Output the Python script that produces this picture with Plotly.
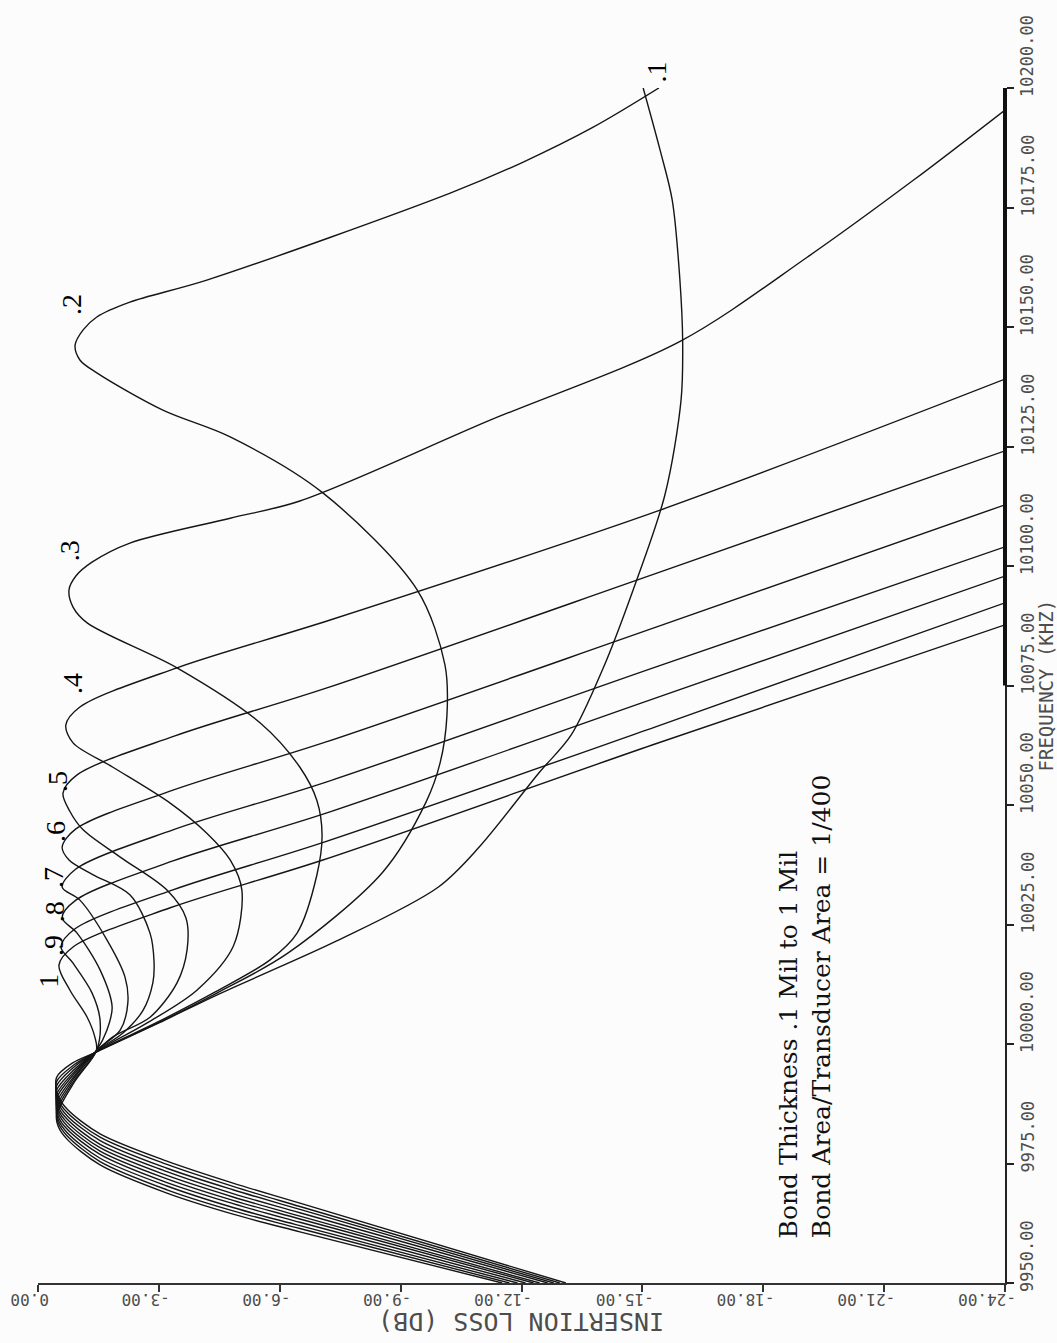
import plotly.graph_objects as go

# ---------------- axis ticks ----------------
LOSS_TICKS = [0, -3, -6, -9, -12, -15, -18, -21, -24]
LOSS_TICK_LABELS = ["0.00", "-3.00", "-6.00", "-9.00", "-12.00", "-15.00", "-18.00", "-21.00", "-24.00"]
FREQ_TICKS = [9950, 9975, 10000, 10025, 10050, 10075, 10100, 10125, 10150, 10175, 10200]
FREQ_TICK_LABELS = ["9950.00", "9975.00", "10000.00", "10025.00", "10050.00", "10075.00",
                    "10100.00", "10125.00", "10150.00", "10175.00", "10200.00"]

# ---------------- curve names (bond thickness, mil) ----------------
CURVE_NAMES = [".1", ".2", ".3", ".4", ".5", ".6", ".7", ".8", ".9", "1"]

# ---------------- series: frequency (kHz) / insertion loss (dB) ----------------
F_01 = [9950.0, 9966.7, 9970.9, 9975.5, 9981.2, 9986.4, 9989.1, 9993.0, 9996.0,
        9998.3, 10004.4, 10010.5, 10021.5, 10032.8, 10041.2, 10056.7, 10064.6, 10078.5, 10095.0,
        10114.9, 10134.7, 10147.0, 10160.0, 10176.6, 10187.0, 10200.0]
L_01 = [-13.10, -6.50, -4.84, -3.20, -1.54, -0.72, -0.50, -0.46, -0.85,
        -1.44, -3.00, -4.50, -7.40, -9.93, -10.95, -12.43, -13.23, -14.02, -14.77,
        -15.56, -15.96, -16.00, -15.93, -15.74, -15.44, -15.02]

F_02 = [9950.0, 9966.0, 9970.2, 9974.8, 9980.5, 9985.7, 9988.4, 9992.1, 9995.5,
        9998.3, 10004.4, 10010.7, 10019.0, 10036.0, 10050.6, 10058.8, 10068.8, 10079.3, 10095.0,
        10115.3, 10127.0, 10132.6, 10140.4, 10143.1, 10146.2, 10149.4, 10152.1, 10155.2, 10159.8,
        10178.0, 10184.3, 10191.8, 10200.0]
L_02 = [-12.95, -6.50, -4.84, -3.20, -1.54, -0.72, -0.50, -0.46, -0.87,
        -1.44, -2.98, -4.45, -6.20, -8.56, -9.63, -9.98, -10.15, -10.10, -9.41,
        -7.07, -4.77, -3.10, -1.46, -1.04, -0.92, -1.12, -1.46, -2.28, -4.19,
        -10.23, -11.99, -13.78, -15.41]

F_03 = [9950.0, 9965.4, 9969.5, 9974.0, 9979.8, 9985.0, 9987.7, 9991.2, 9995.1,
        9998.3, 10004.5, 10010.9, 10017.6, 10023.2, 10035.3, 10043.7, 10051.0, 10057.9, 10067.2,
        10078.7, 10088.1, 10091.4, 10095.0, 10097.9, 10100.8, 10104.8, 10110.0, 10113.6, 10130.5,
        10147.1, 10164.6, 10180.8, 10195.4]
L_03 = [-12.80, -6.50, -4.84, -3.20, -1.54, -0.72, -0.50, -0.46, -0.88,
        -1.44, -2.95, -4.40, -5.76, -6.43, -6.92, -7.05, -6.92, -6.50, -5.51,
        -3.45, -1.22, -0.87, -0.77, -0.94, -1.34, -2.28, -4.77, -6.50, -11.22,
        -15.96, -19.09, -21.74, -24.00]

F_04 = [9950.0, 9964.7, 9968.7, 9973.3, 9979.0, 9984.3, 9987.0, 9990.3, 9994.6,
        9998.4, 10004.4, 10011.3, 10020.5, 10032.2, 10038.5, 10044.1, 10050.4, 10057.9, 10063.0,
        10066.7, 10070.5, 10078.7, 10088.7, 10111.7, 10139.1]
L_04 = [-12.65, -6.50, -4.84, -3.20, -1.54, -0.72, -0.50, -0.46, -0.89,
        -1.45, -2.71, -3.95, -4.85, -5.06, -4.77, -4.19, -3.28, -1.86, -0.87,
        -0.69, -1.04, -3.45, -7.25, -15.44, -24.00]

F_05 = [9950.0, 9964.0, 9968.0, 9972.5, 9978.3, 9983.6, 9986.3, 9989.4, 9994.2,
        9998.5, 10001.5, 10005.6, 10012.8, 10019.7, 10026.4, 10032.2, 10039.1, 10044.8, 10048.7,
        10052.5, 10056.3, 10064.4, 10074.5, 10098.5, 10124.1]
L_05 = [-12.45, -6.50, -4.84, -3.20, -1.54, -0.72, -0.50, -0.46, -0.90,
        -1.45, -1.86, -2.78, -3.45, -3.70, -3.67, -3.20, -2.04, -1.12, -0.79,
        -0.62, -0.97, -3.38, -7.17, -15.36, -24.00]

F_06 = [9950.0, 9963.4, 9967.3, 9971.8, 9977.6, 9982.9, 9985.6, 9988.6, 9993.8,
        9998.5, 10002.3, 10007.1, 10012.8, 10017.2, 10023.2, 10031.2, 10035.4, 10038.5, 10041.2,
        10045.0, 10053.1, 10063.2, 10087.2, 10112.8]
L_06 = [-12.30, -6.50, -4.84, -3.20, -1.54, -0.72, -0.50, -0.46, -0.90,
        -1.45, -2.11, -2.61, -2.85, -2.88, -2.78, -2.28, -1.37, -0.77, -0.60,
        -0.94, -3.35, -7.15, -15.34, -24.00]

F_07 = [9950.0, 9962.7, 9966.6, 9971.0, 9976.9, 9982.2, 9984.9, 9987.7, 9993.3,
        9998.6, 10002.9, 10008.6, 10014.0, 10021.8, 10030.1, 10032.8, 10036.6, 10044.8, 10054.8,
        10078.9, 10104.0]
L_07 = [-12.10, -6.50, -4.84, -3.20, -1.54, -0.72, -0.50, -0.46, -0.90,
        -1.45, -2.04, -2.23, -2.16, -1.71, -1.04, -0.60, -0.94, -3.35, -7.15,
        -15.34, -24.00]

F_08 = [9950.0, 9962.0, 9965.8, 9970.3, 9976.1, 9981.5, 9984.2, 9986.8, 9992.9,
        9998.6, 10002.9, 10007.7, 10015.5, 10023.2, 10026.4, 10030.1, 10038.3, 10048.3, 10072.4,
        10097.9]
L_08 = [-11.90, -6.50, -4.84, -3.20, -1.54, -0.72, -0.50, -0.46, -0.90,
        -1.45, -1.71, -1.84, -1.54, -0.97, -0.60, -0.94, -3.35, -7.15, -15.34,
        -24.00]

F_09 = [9950.0, 9961.4, 9965.1, 9969.5, 9975.4, 9980.8, 9983.5, 9985.9, 9992.4,
        9998.6, 10005.0, 10010.7, 10016.9, 10020.3, 10024.1, 10032.2, 10042.3, 10066.3, 10092.3]
L_09 = [-11.70, -6.50, -4.84, -3.20, -1.54, -0.72, -0.50, -0.46, -0.90,
        -1.45, -1.54, -1.34, -0.87, -0.57, -0.92, -3.33, -7.12, -15.31, -24.00]

F_10 = [9950.0, 9960.7, 9964.4, 9968.8, 9974.7, 9980.1, 9982.8, 9985.0, 9992.0,
        9998.7, 10001.5, 10005.6, 10011.3, 10016.5, 10020.3, 10028.5, 10038.5, 10062.6, 10087.7]
L_10 = [-11.52, -6.50, -4.84, -3.20, -1.54, -0.72, -0.50, -0.46, -0.90,
        -1.45, -1.41, -1.22, -0.79, -0.52, -0.87, -3.28, -7.07, -15.26, -24.00]

# curve-label positions (loss dB, frequency kHz) and extra pixel lift (for the label above the frame)
LABEL_LOSS = [-15.34, -0.82, -0.77, -0.84, -0.47, -0.45, -0.37, -0.40, -0.37, -0.27]
LABEL_FREQ = [10199.9, 10154.6, 10103.1, 10075.5, 10055.0, 10044.4, 10034.9, 10027.6, 10020.7, 10013.2]
LABEL_LIFT = [16, 0, 0, 0, 0, 0, 0, 0, 0, 0]

NOTE_LINES = ["Bond Thickness .1 Mil to 1 Mil", "Bond Area/Transducer Area = 1/400"]
NOTE_LOSS = [-18.65, -19.45]
NOTE_FREQ = 9959.0

X_TITLE = "INSERTION LOSS (DB)"
Y_TITLE = "FREQUENCY (KHZ)"

SERIES = [(F_01, L_01), (F_02, L_02), (F_03, L_03), (F_04, L_04), (F_05, L_05),
          (F_06, L_06), (F_07, L_07), (F_08, L_08), (F_09, L_09), (F_10, L_10)]

fig = go.Figure()
for name, (f, l) in zip(CURVE_NAMES, SERIES):
    fig.add_trace(go.Scatter(
        x=l, y=f, mode="lines", name=name, showlegend=False,
        line=dict(color="#151515", width=1.4, shape="spline", smoothing=0.9),
        hoverinfo="skip"))

PLOT_FONT = "DejaVu Sans Mono, monospace"
GREY = "#4d4d4d"
ann = []
for v, t in zip(LOSS_TICKS, LOSS_TICK_LABELS):
    ann.append(dict(x=v, xref="x", y=0, yref="paper", text=t, textangle=180,
                    xanchor="right", yanchor="middle", xshift=13, yshift=-17,
                    showarrow=False, font=dict(family=PLOT_FONT, size=16, color=GREY)))
for v, t in zip(FREQ_TICKS, FREQ_TICK_LABELS):
    ann.append(dict(x=1, xref="paper", y=v, yref="y", text=t, textangle=-90,
                    xanchor="center", yanchor="bottom", xshift=22, yshift=-11,
                    showarrow=False, font=dict(family=PLOT_FONT, size=17, color=GREY)))
ann.append(dict(x=0.5, xref="paper", y=0, yref="paper", text=X_TITLE, textangle=180,
                xanchor="center", yanchor="middle", yshift=-39, showarrow=False,
                font=dict(family=PLOT_FONT, size=25, color=GREY)))
ann.append(dict(x=1, xref="paper", y=0.5, yref="paper", text=Y_TITLE, textangle=-90,
                xanchor="center", yanchor="middle", xshift=40, showarrow=False,
                font=dict(family=PLOT_FONT, size=19, color=GREY)))
for name, lx, ly, lift in zip(CURVE_NAMES, LABEL_LOSS, LABEL_FREQ, LABEL_LIFT):
    ann.append(dict(x=lx, xref="x", y=ly, yref="y", text=name, textangle=-90,
                    xanchor="center", yanchor="middle", yshift=lift, showarrow=False,
                    font=dict(family="Liberation Serif, serif", size=28, color="#000")))
for line, lx in zip(NOTE_LINES, NOTE_LOSS):
    ann.append(dict(x=lx, xref="x", y=NOTE_FREQ, yref="y", text=line, textangle=-90,
                    xanchor="center", yanchor="bottom", showarrow=False,
                    font=dict(family="DejaVu Serif, serif", size=25, color="#111")))

# heavier stroke on the upper part of the frequency axis (as in the plotted original)
shapes = [dict(type="line", xref="paper", x0=1, x1=1, yref="y",
               y0=FREQ_TICKS[5], y1=FREQ_TICKS[-1], line=dict(color="#111", width=4))]

fig.update_layout(
    width=1057, height=1343,
    margin=dict(l=38, r=52, t=88, b=60, pad=0),
    paper_bgcolor="#fcfcfc", plot_bgcolor="#fcfcfc",
    annotations=ann, shapes=shapes,
    xaxis=dict(range=[0, -24], tickvals=LOSS_TICKS, showticklabels=False,
               ticks="outside", ticklen=7, tickwidth=1.5, tickcolor="#333",
               showline=True, linecolor="#333", linewidth=1.5,
               showgrid=False, zeroline=False),
    yaxis=dict(range=[9950, 10200], side="right", tickvals=FREQ_TICKS, showticklabels=False,
               ticks="outside", ticklen=7, tickwidth=1.5, tickcolor="#222",
               showline=True, linecolor="#222", linewidth=1.5,
               showgrid=False, zeroline=False),
)

fig.write_html("out.html", config={"displayModeBar": False},
               post_script="document.body.style.margin='0';document.body.style.overflow='hidden';")
